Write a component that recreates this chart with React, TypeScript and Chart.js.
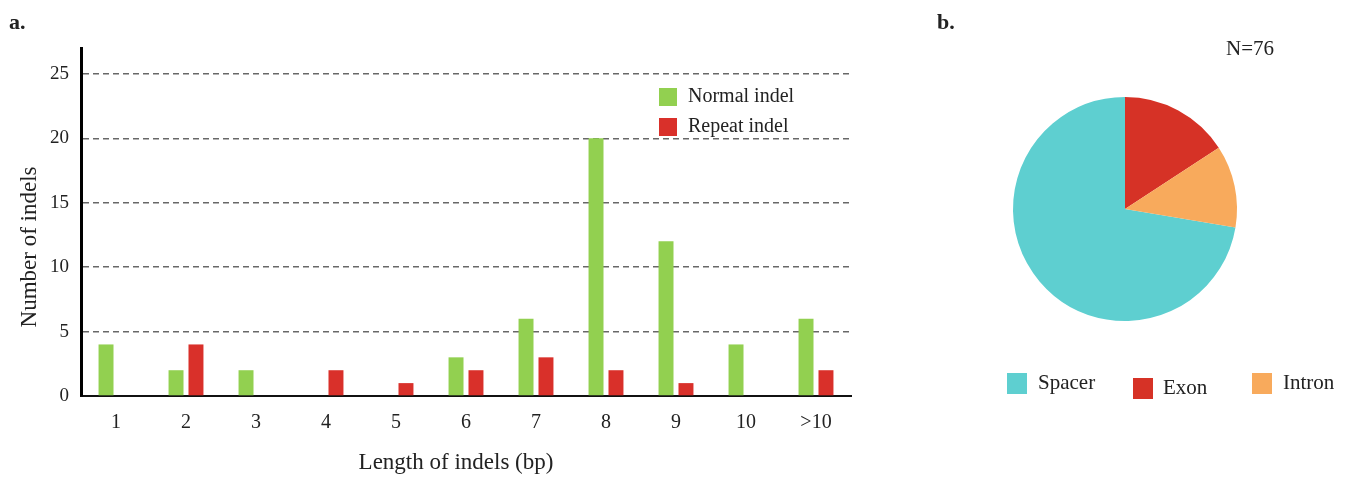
import { useEffect, useRef } from 'react';
import { Chart, registerables } from 'chart.js';

Chart.register(...registerables);

// Panel a: indel length distribution
const lengthCategories = ['1', '2', '3', '4', '5', '6', '7', '8', '9', '10', '>10'];
const normalIndels = [4, 2, 2, 0, 0, 3, 6, 20, 12, 4, 6];
const repeatIndels = [0, 4, 0, 2, 1, 2, 3, 2, 1, 0, 2];
const countTicks = [0, 5, 10, 15, 20, 25];
const countAxisMax = 27;

// Panel b: genomic region of indels
const regionLabels = ['Spacer', 'Exon', 'Intron'];
const regionCounts = [55, 12, 9];

const SERIF = '"Liberation Serif", "Times New Roman", serif';
const TEXT = '#222222';
const GREEN = '#92D050';
const RED = '#D9302A';
const REGION_COLORS = ['#5ECFD0', '#D63226', '#F8AA5C'];

const barDecor = {
  id: 'barDecor',
  afterDraw(chart: any) {
    const { ctx } = chart;
    ctx.save();
    ctx.fillStyle = TEXT;
    ctx.textBaseline = 'middle';

    ctx.font = `bold 22px ${SERIF}`;
    ctx.textAlign = 'left';
    ctx.fillText('a.', 9, 23);

    ctx.font = `23px ${SERIF}`;
    ctx.textAlign = 'center';
    ctx.fillText('Length of indels (bp)', 456, 463);

    ctx.save();
    ctx.translate(30, 247);
    ctx.rotate(-Math.PI / 2);
    ctx.fillText('Number of indels', 0, 0);
    ctx.restore();

    // legend inside the plot
    ctx.font = `20px ${SERIF}`;
    ctx.textAlign = 'left';
    chart.data.datasets.forEach((ds: any, i: number) => {
      ctx.fillStyle = ds.backgroundColor;
      ctx.fillRect(659, 88 + 30 * i, 18, 18);
      ctx.fillStyle = TEXT;
      ctx.fillText(ds.label, 688, 97 + 30 * i);
    });
    ctx.restore();
  },
};

const pieDecor = {
  id: 'pieDecor',
  afterDraw(chart: any) {
    const { ctx } = chart;
    const ds = chart.data.datasets[0];
    const total = ds.data.reduce((a: number, b: number) => a + b, 0);
    ctx.save();
    ctx.fillStyle = TEXT;
    ctx.textBaseline = 'middle';
    ctx.textAlign = 'left';

    ctx.font = `bold 22px ${SERIF}`;
    ctx.fillText('b.', 37, 23);

    ctx.font = `21px ${SERIF}`;
    ctx.fillText(`N=${total}`, 326, 49);

    const boxX = [107, 233, 352];
    const boxY = [373, 378, 373];
    const textX = [138, 263, 383];
    chart.data.labels.forEach((label: string, i: number) => {
      ctx.fillStyle = ds.backgroundColor[i];
      ctx.fillRect(boxX[i], boxY[i], 20, 21);
      ctx.fillStyle = TEXT;
      ctx.fillText(label, textX[i], boxY[i] + 10);
    });
    ctx.restore();
  },
};

function IndelBars() {
  const ref = useRef<HTMLCanvasElement>(null);
  useEffect(() => {
    const chart = new Chart(ref.current!, {
      type: 'bar',
      data: {
        labels: lengthCategories,
        datasets: [
          { label: 'Normal indel', data: normalIndels, backgroundColor: GREEN },
          { label: 'Repeat indel', data: repeatIndels, backgroundColor: RED },
        ],
      },
      options: {
        responsive: false,
        animation: false,
        layout: { padding: { left: 0, top: 48, right: 49, bottom: 0 } },
        datasets: { bar: { categoryPercentage: 0.57, barPercentage: 0.75, borderWidth: 0 } },
        plugins: { legend: { display: false }, tooltip: { enabled: false } },
        scales: {
          x: {
            afterFit: (s: any) => { s.height = 81; },
            grid: { display: false, drawTicks: false },
            border: { display: true, color: '#111', width: 2 },
            ticks: { color: TEXT, font: { family: SERIF, size: 20 }, padding: 15 },
          },
          y: {
            min: 0,
            max: countAxisMax,
            afterFit: (s: any) => { s.width = 81; },
            afterBuildTicks: (s: any) => { s.ticks = countTicks.map((v) => ({ value: v })); },
            grid: {
              drawTicks: false,
              color: (c: any) => (c.tick && c.tick.value === 0 ? 'rgba(0,0,0,0)' : '#686868'),
              lineWidth: 1.4,
            },
            border: { display: true, color: '#000', width: 3, dash: [6, 4] },
            ticks: { color: TEXT, font: { family: SERIF, size: 19 }, padding: 12 },
          },
        },
      },
      plugins: [barDecor],
    });
    return () => chart.destroy();
  }, []);
  return (
    <canvas
      ref={ref}
      width={900}
      height={477}
      style={{ position: 'absolute', left: 0, top: 0, display: 'block' }}
    />
  );
}

function RegionPie() {
  const ref = useRef<HTMLCanvasElement>(null);
  useEffect(() => {
    const total = regionCounts.reduce((a, b) => a + b, 0);
    // Spacer starts where the Exon and Intron slices end, so Exon sits at 12 o'clock
    const rotation = ((total - regionCounts[0]) / total) * 360;
    const chart = new Chart(ref.current!, {
      type: 'pie',
      data: {
        labels: regionLabels,
        datasets: [{ data: regionCounts, backgroundColor: REGION_COLORS, borderWidth: 0 }],
      },
      options: {
        responsive: false,
        animation: false,
        rotation,
        layout: { padding: { left: 113, top: 97, right: 110, bottom: 156 } },
        plugins: { legend: { display: false }, tooltip: { enabled: false } },
      },
      plugins: [pieDecor],
    });
    return () => chart.destroy();
  }, []);
  return (
    <canvas
      ref={ref}
      width={447}
      height={477}
      style={{ position: 'absolute', left: 900, top: 0, display: 'block' }}
    />
  );
}

export default function App() {
  return (
    <div
      style={{
        position: 'fixed',
        left: 0,
        top: 0,
        width: 1347,
        height: 477,
        background: '#fff',
        overflow: 'hidden',
      }}
    >
      <IndelBars />
      <RegionPie />
    </div>
  );
}
